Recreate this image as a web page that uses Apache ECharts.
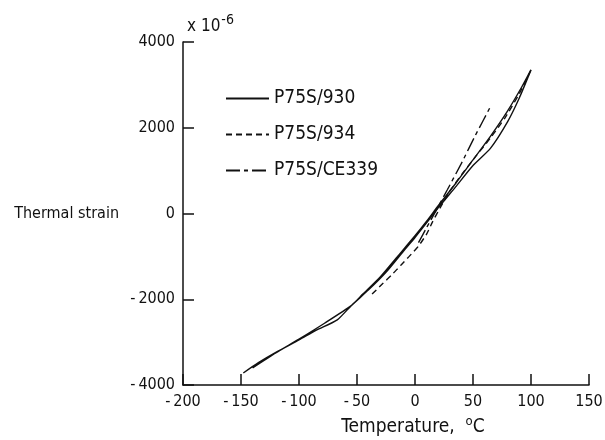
<!DOCTYPE html>
<html><head><meta charset="utf-8">
<script src="https://cdn.jsdelivr.net/npm/echarts@6/dist/echarts.min.js"></script>
<style>html,body{margin:0;padding:0;background:#fff}#c{width:605px;height:440px}</style>
</head><body><div id="c"></div>
<script>
var seriesNames = ['P75S/930', 'P75S/934', 'P75S/CE339'];
// temperature (°C), strain (x1e-6)
var p930 = [[-148,-3720],[-135,-3480],[-120,-3240],[-100,-2950],[-85,-2720],[-67,-2480],[-55,-2150],[-40,-1780],[-25,-1370],[-10,-880],[0,-560],[10,-220],[20,130],[35,620],[50,1120],[65,1520],[80,2150],[90,2700],[100,3350],
            [92,2950],[80,2400],[65,1800],[50,1250],[35,700],[20,180],[10,-180],[0,-520],[-15,-1000],[-30,-1480],[-45,-1880],[-55,-2150],[-78,-2560],[-100,-2930],[-120,-3250],[-140,-3600]];
var p934 = [[-37,-1880],[-28,-1640],[-20,-1430],[-12,-1200],[-5,-1000],[3,-760],[10,-480],[15,-200],[22,150],[30,520],[40,900],[52,1320],[65,1760],[78,2250],[90,2800],[100,3350]];
var pCE339 = [[3,-680],[10,-330],[18,60],[28,560],[40,1170],[52,1820],[66,2540]];
var xTicks = {min:-200, max:150, step:50};
var yTicks = {min:-4000, max:4000, step:2000};

var chart = echarts.init(document.getElementById('c'), null, {renderer:'canvas'});
var FONT = '"DejaVu Sans Condensed","DejaVu Sans",sans-serif';
function fmt(v){ return v < 0 ? '-' + '\u2009' + Math.abs(v) : String(v); }
var lineTypes = ['solid', [6,4], [14,4,4,4]];
var datas = [p930, p934, pCE339];
chart.setOption({
  animation:false,
  backgroundColor:'#fff',
  grid:{left:183, right:16, top:42, bottom:55, containLabel:false, outerBoundsMode:'none'},
  legend:{
    orient:'vertical', left:225, top:89, padding:0, itemWidth:43, itemHeight:14, itemGap:17,
    itemStyle:{opacity:0},
    textStyle:{fontFamily:FONT, fontSize:19, color:'#111'},
    data:seriesNames
  },
  xAxis:{type:'value', min:xTicks.min, max:xTicks.max, interval:xTicks.step,
    axisLine:{onZero:false, lineStyle:{color:'#111', width:1.5}},
    axisTick:{inside:true, length:11, lineStyle:{color:'#111', width:1.5}},
    splitLine:{show:false},
    axisLabel:{formatter:fmt, fontFamily:FONT, fontSize:16, color:'#111', margin:9},
    name:'Temperature,  {sup|o}C', nameLocation:'middle', nameGap:28,
    nameTextStyle:{fontFamily:FONT, fontSize:19, color:'#111', padding:[0,0,0,54],
      rich:{sup:{fontFamily:FONT, fontSize:13, verticalAlign:'top', padding:[0,0,12,0], color:'#111'}}}
  },
  yAxis:{type:'value', min:yTicks.min, max:yTicks.max, interval:yTicks.step,
    axisLine:{onZero:false, lineStyle:{color:'#111', width:1.5}},
    axisTick:{inside:true, length:11, lineStyle:{color:'#111', width:1.5}},
    splitLine:{show:false},
    axisLabel:{formatter:fmt, fontFamily:FONT, fontSize:16, color:'#111', margin:8},
    name:'Thermal strain', nameLocation:'middle', nameRotate:0, nameGap:64,
    nameTextStyle:{fontFamily:FONT, fontSize:16, color:'#111'}
  },
  graphic:[{type:'text', left:187, top:13, style:{text:'x 10{s|-6}', font:'17px '+FONT, fill:'#111',
    rich:{s:{fontSize:14, fontFamily:FONT, verticalAlign:'top', padding:[0,0,14,1], fill:'#111'}}}}],
  series:datas.map(function(d,i){
    return {name:seriesNames[i], type:'line', data:d, showSymbol:false, symbol:'none', smooth:0.2,
      lineStyle:{color:'#111', width:1.4, type:lineTypes[i]}, itemStyle:{color:'#111'}};
  })
});
</script></body></html>
